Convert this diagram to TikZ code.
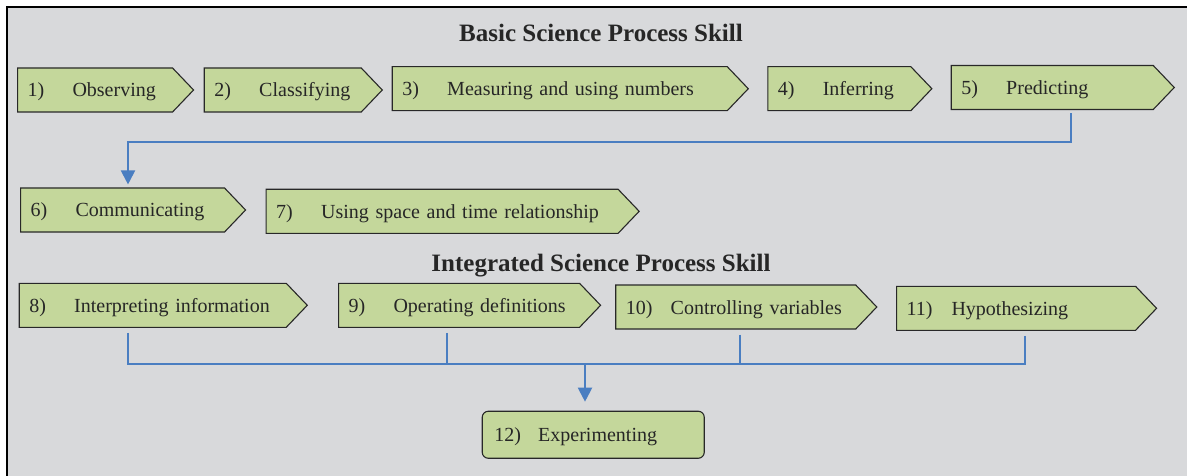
\documentclass[tikz,border=0pt]{standalone}
\usepackage{fontspec}
\setmainfont{Liberation Serif}
\usetikzlibrary{shapes.symbols,arrows.meta}
\definecolor{skillgreen}{RGB}{196,215,155}
\definecolor{panelgray}{RGB}{216,217,219}
\definecolor{linkblue}{RGB}{74,126,193}
\definecolor{edgegray}{RGB}{40,40,40}
\tikzset{
    skill/.style={signal, signal to=east, signal pointer angle=92.6,
        draw=edgegray, line width=1.1pt, fill=skillgreen,
        minimum height=44pt, inner xsep=10pt, inner ysep=0pt,
        text height=16pt, text depth=2pt, align=left, text=black!85,
        font=\fontsize{20}{24}\selectfont},
    lastskill/.style={rectangle, rounded corners=6pt,
        draw=edgegray, line width=1.1pt, fill=skillgreen,
        minimum height=47pt, inner xsep=12pt, inner ysep=0pt,
        text height=16pt, text depth=2pt, align=left, text=black!85,
        font=\fontsize{20}{24}\selectfont},
    heading/.style={font=\fontsize{25}{30}\selectfont\bfseries, text=black!85},
    link/.style={draw=linkblue, line width=2pt},
    tip/.style={-{Triangle[width=14pt,length=14pt]}},
}
% #1 name, #2 left x, #3 middle y, #4 text width, #5 number, #6 label
\newcommand{\skill}[6] {
    \node[skill, text width=#4pt, anchor=west] (#1) at (#2,#3)
        {\makebox[45pt][l]{#5}#6};
}

\begin{document}
\begin{tikzpicture}[x=1pt,y=-1pt]
    \useasboundingbox (0,0) rectangle (1187,476);
    \fill[panelgray] (7,7) rectangle (1187,476);
    \draw[line width=1.2pt] (7,476) -- (7,7) -- (1187,7);

    % basic skills
    \node[heading, anchor=base] (basic) at (601,41.7) {Basic Science Process Skill};
    \skill{obs}{17}{90}{135}{1)}{Observing}
    \skill{class}{203.7}{90}{137}{2)}{Classifying}
    \skill{meas}{391.7}{88.7}{315}{3)}{Measuring and using numbers}
    \skill{infer}{767.3}{88.7}{123}{4)}{Inferring}
    \skill{pred}{950.7}{87.5}{182}{5)}{Predicting}
    \skill{comm}{20}{210}{184}{6)}{Communicating}
    \skill{space}{265.6}{211.3}{332}{7)}{Using space and time relationship}

    % integrated skills
    \node[heading, anchor=base] (integ) at (601,271.7) {Integrated Science Process Skill};
    \skill{interp}{18.7}{305.3}{247}{8)}{Interpreting information}
    \skill{oper}{338}{305.3}{221}{9)}{Operating definitions}
    \skill{ctrl}{615.2}{307}{220}{10)}{Controlling variables}
    \skill{hypo}{896}{308.3}{219}{11)}{Hypothesizing}
    \node[lastskill, text width=198pt, anchor=north west] (exper) at (481.7,410.7)
        {\makebox[44pt][l]{12)}Experimenting};

    % connectors
    \coordinate (turn) at (1071,141.7);
    \draw[link, tip, shorten <=3pt, shorten >=3pt]
        (pred.south -| turn) -- (turn) -| (comm.north -| 128,0);
    \coordinate (join) at (585,364);
    \foreach \n/\x in {interp/128, oper/447, ctrl/740, hypo/1025}
        \draw[link, shorten <=5pt] (\n.south -| \x,0) |- (join);
    \draw[link, tip, shorten >=9pt] (join) -- (exper.north -| join);
\end{tikzpicture}
\end{document}
